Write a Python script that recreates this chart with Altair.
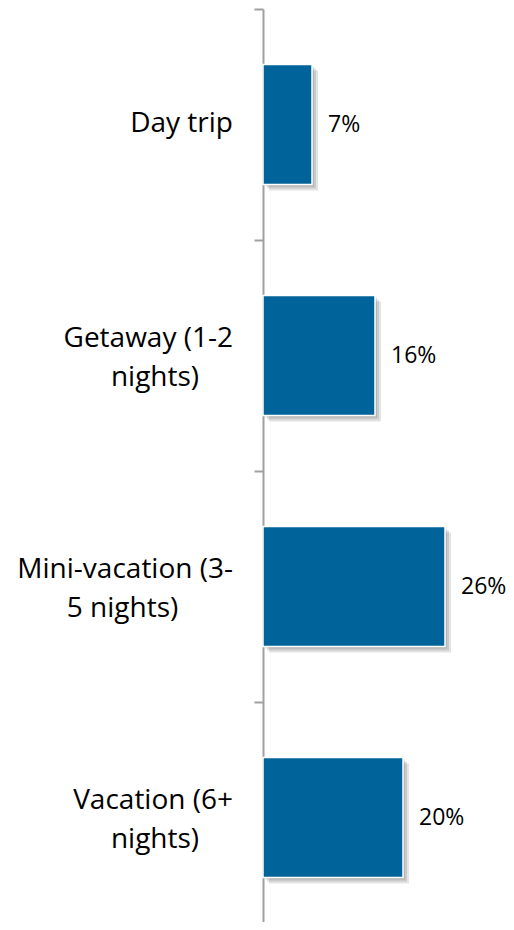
import altair as alt
import pandas as pd

categories = ["Day trip", "Getaway (1-2 nights)", "Mini-vacation (3-5 nights)", "Vacation (6+ nights)"]
label_line1 = ["Day trip", "Getaway (1-2", "Mini-vacation (3-", "Vacation (6+"]
label_line2 = ["", "nights)", "5 nights)", "nights)"]
values = [0.07, 0.16, 0.26, 0.20]

df = pd.DataFrame({"category": categories, "l1": label_line1, "l2": label_line2, "value": values})

BAR = "#00649A"
AXIS = "#A0A0A0"
FONT = "Open Sans"

y_enc = alt.Y(
    "category:N",
    sort=categories,
    scale=alt.Scale(paddingInner=0.48, paddingOuter=0.24),
    axis=alt.Axis(
        title=None, labels=False, bandPosition=-0.4615, domainColor=AXIS, domainWidth=2,
        tickColor=AXIS, tickWidth=2, tickSize=9, grid=False,
    ),
)
x_enc = alt.X("value:Q", scale=alt.Scale(domain=[0, 0.34]), axis=None)

base = alt.Chart(df)

shadows = [
    base.mark_bar(color="black", opacity=0.11, xOffset=k, yOffset=k).encode(x=x_enc, y=y_enc)
    for k in (2, 4, 6)
]

bars = base.mark_bar(color=BAR, stroke="white", strokeWidth=1.5).encode(x=x_enc, y=y_enc)

value_text = base.mark_text(
    align="left", baseline="middle", dx=16, font=FONT, fontSize=23, color="black"
).encode(x=x_enc, y=y_enc, text=alt.Text("value:Q", format=".0%"))

label_style = dict(baseline="middle", font=FONT, fontSize=28, color="black")

single_text = base.transform_filter("datum.l2 == ''").mark_text(
    align="right", dy=-1, **label_style
).encode(x=alt.value(-30), y=y_enc, text="l1:N")

first_text = base.transform_filter("datum.l2 != ''").mark_text(
    align="right", dy=-17, **label_style
).encode(x=alt.value(-30), y=y_enc, text="l1:N")

second_text = base.transform_filter("datum.l2 != ''").transform_calculate(
    lx="-30 - length(datum.l1) * 6.5"
).mark_text(
    align="center", dy=22, **label_style
).encode(x=alt.X("lx:Q", scale=None, axis=None), y=y_enc, text="l2:N")

chart = alt.layer(*shadows, bars, value_text, single_text, first_text, second_text).resolve_scale(
    x="independent"
).properties(
    width=238, height=924,
    autosize=alt.AutoSizeParams(type="none"),
    padding={"left": 255, "top": 1, "right": 5, "bottom": -11},
    background="white",
).configure_view(stroke=None)

chart.save("out.html", embed_options={"renderer": "svg", "actions": False})
